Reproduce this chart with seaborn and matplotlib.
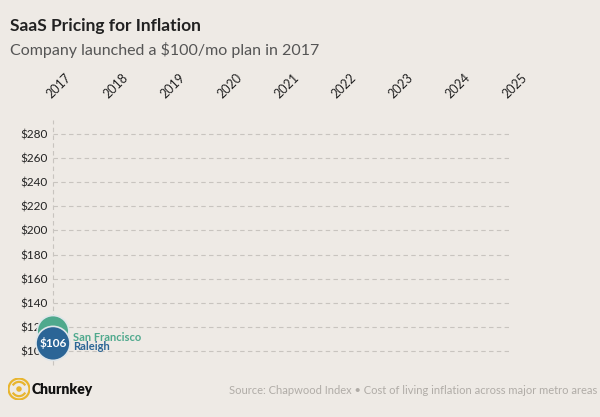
import matplotlib
matplotlib.use('Agg')
import matplotlib.pyplot as plt
import seaborn as sns
import pandas as pd
from matplotlib.patches import Circle, Arc

# data
years = list(range(2017, 2026))
cities = ['San Francisco', 'Raleigh']
launch_year = [2017, 2017]
price = [116, 106]
city_colors = ['#4fa98d', '#2b6596']
y_ticks = list(range(100, 300, 20))

bg = '#eeeae5'
sns.set_theme(style='white', rc={'axes.facecolor': bg, 'figure.facecolor': bg})
plt.rcParams['font.family'] = ['Lato', 'DejaVu Sans']

df = pd.DataFrame({'city': cities, 'year': launch_year, 'price': price})

fig = plt.figure(figsize=(6, 4.17), dpi=100)
ax = fig.add_axes([53 / 600, 1 - 365 / 417, (509 - 53) / 600, (365 - 120) / 417])

ax.set_xlim(2017, 2025)
ax.set_ylim(88, 292)
ax.set_yticks(y_ticks)
ax.set_yticklabels([f'${v}' for v in y_ticks])
ax.set_xticks(years)
ax.xaxis.tick_top()
ax.set_xticklabels([str(y) for y in years], rotation=45, ha='left',
                   rotation_mode='anchor')
ax.tick_params(axis='x', length=0, pad=14, labelsize=9, labelcolor='#222222')
ax.tick_params(axis='y', length=0, pad=4, labelsize=8.5, labelcolor='#222222')
for s in ax.spines.values():
    s.set_visible(False)

# dashed grid
for v in y_ticks:
    ax.axhline(v, color='#c8c4bf', lw=0.8, ls=(0, (4, 3)), zorder=1)
ax.axvline(2017, color='#c8c4bf', lw=0.8, ls=(0, (4, 3)), zorder=1, clip_on=False)

sns.scatterplot(data=df, x='year', y='price', hue='city', size='city',
                palette=dict(zip(cities, city_colors)),
                sizes={'San Francisco': 520, 'Raleigh': 600},
                edgecolor='#dfe6ea', linewidth=1.2, legend=False,
                clip_on=False, zorder=3, ax=ax)
ax.set_xlabel('')
ax.set_ylabel('')

offsets = [(14.5, -4.3), (14.5, -2.5)]
for c, p, col, off in zip(cities, price, city_colors, offsets):
    ax.annotate(c, (2017, p), xytext=off, textcoords='offset points',
                color=col, fontsize=8, fontweight='bold', va='center',
                annotation_clip=False, zorder=4)
ax.annotate(f'${price[1]}', (2017, price[1]), ha='center', va='center',
            color='white', fontsize=8.5, fontweight='bold',
            annotation_clip=False, zorder=5)

# titles
fig.text(10 / 600, 1 - 26 / 417, 'SaaS Pricing for Inflation', fontsize=12.5,
         fontweight='bold', color='#222222', va='center')
fig.text(10 / 600, 1 - 50 / 417, 'Company launched a $100/mo plan in 2017',
         fontsize=11.5, color='#555555', va='center')

# footer
fig.text(597 / 600, 1 - 391 / 417,
         'Source: Chapwood Index \u2022 Cost of living inflation across major metro areas',
         fontsize=8, color='#b0aca7', ha='right', va='center')
fig.text(32 / 600, 1 - 389 / 417, 'Churnkey', fontsize=10, fontweight='heavy',
         color='#111111', va='center')
lax = fig.add_axes([8 / 600, 1 - 400 / 417, 22 / 600, 22 / 417])
lax.set_xlim(-1, 1)
lax.set_ylim(-1, 1)
lax.set_aspect('equal')
lax.axis('off')
gold = '#e8b52e'
lax.add_patch(Circle((0, 0), 0.95, fc='none', ec=gold, lw=1.6))
lax.add_patch(Arc((0, 0), 1.3, 1.3, theta1=30, theta2=150, ec=gold, lw=1.6))
lax.add_patch(Arc((0, 0), 1.3, 1.3, theta1=210, theta2=330, ec=gold, lw=1.6))
lax.add_patch(Circle((0, 0), 0.25, fc=gold, ec='none'))

fig.savefig('out.png', dpi=100, facecolor=bg)
